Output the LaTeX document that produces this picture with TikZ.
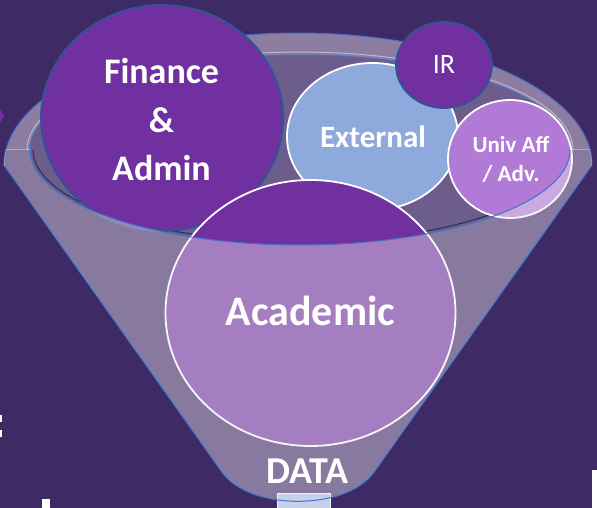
\documentclass[tikz,border=0pt]{standalone}
\usepackage{fontspec}
\setmainfont{Carlito}
\usetikzlibrary{shapes.geometric}
\definecolor{bgcol}{RGB}{62,42,100}
\definecolor{purp}{RGB}{112,48,160}
\definecolor{darkblue}{RGB}{47,85,151}
\definecolor{extblue}{RGB}{142,169,219}
\definecolor{univcol}{RGB}{176,122,214}
\definecolor{bandcol}{RGB}{140,125,161}
\definecolor{innercol}{RGB}{108,93,140}
\definecolor{overcol}{RGB}{240,232,240}
\definecolor{rimblue}{RGB}{68,114,196}
\definecolor{navy}{RGB}{30,30,72}
\definecolor{boxcol}{RGB}{199,207,235}
\tikzset{
  bubbledark/.style={ellipse, fill=purp, draw=darkblue, line width=1.8pt, inner sep=0pt},
  bubblewhite/.style={ellipse, draw=white, line width=1.8pt, inner sep=0pt},
  lbl/.style={text=white, inner sep=0pt, anchor=base, align=center},
  rimline/.style={draw=rimblue, line width=1pt},
}
\newcommand{\funnelpath}{plot[domain=180:360,samples=90] ({298+294*cos(\x)},{165+132*sin(\x)}) -- (374,472) .. controls (346.2,511.1) and (249.8,511.1) .. (222,472) -- cycle}
\begin{document}
\begin{tikzpicture}[x=1pt,y=-1pt]
\useasboundingbox (0,0) rectangle (597,508);
\fill[bgcol] (0,0) rectangle (597,508);
% fragments at the edges
\fill[white] (0,415) rectangle (2,422);
\fill[white] (0,430) rectangle (2,437);
\fill[white] (42,499) rectangle (50,508);
\fill[white] (592,470) rectangle (597,508);
\fill[purp] (0,109) -- (4,116) -- (0,123) -- cycle;
% back band
\begin{scope}
\clip (0,0) rectangle (597,150);
\fill[bandcol, even odd rule] \funnelpath (300,150) ellipse [x radius=270, y radius=95];
\end{scope}
% inner mouth
\fill[innercol] (300,150) ellipse [x radius=270, y radius=95];
\draw[navy, line width=1pt, opacity=0.8] plot[domain=0:180,samples=90] ({300+267*cos(\x)},{150+92*sin(\x)});
\draw[white, opacity=0.45, line width=1pt] plot[domain=180:360,samples=90] ({300+273*cos(\x)},{150+98*sin(\x)});
\draw[rimline] plot[domain=180:360,samples=90] ({300+270*cos(\x)},{150+95*sin(\x)});
\draw[rimline] \funnelpath;
% bubbles
\node[bubbledark, minimum width=242pt, minimum height=226pt] (fin) at (162,118) {};
\node[bubblewhite, fill=extblue, minimum width=171pt, minimum height=147pt] (ext) at (372.5,136.5) {};
\node[bubblewhite, fill=univcol, minimum width=124pt, minimum height=118pt] (univ) at (510,159) {};
\node[bubblewhite, fill=purp, minimum width=290pt, minimum height=266pt] (acad) at (310.5,313) {};
\node[bubbledark, minimum width=96pt, minimum height=86pt] (ir) at (444,65) {};
% front of funnel (translucent)
\begin{scope}
\clip (0,150) rectangle (597,508);
\fill[overcol, opacity=0.42, even odd rule] \funnelpath (300,150) ellipse [x radius=270, y radius=95];
\end{scope}
\draw[rimline] plot[domain=0:180,samples=90] ({300+270*cos(\x)},{150+95*sin(\x)});
% box below
\node[draw=white!90!gray, fill=boxcol, line width=1pt, minimum width=53pt, minimum height=20pt, inner sep=0pt, anchor=north west] (box) at (277,493) {};
\begin{scope}
\clip (0,166) rectangle (597,508);
\draw[rimline] \funnelpath;
\end{scope}
% labels
\node[lbl, font=\fontsize{36}{40}\selectfont\bfseries] (tfin1) at (161.5,84) {Finance};
\node[lbl, font=\fontsize{36}{40}\selectfont\bfseries] (tfin2) at (161.5,132) {\&};
\node[lbl, font=\fontsize{36}{40}\selectfont\bfseries] (tfin3) at (161.5,180) {Admin};
\node[lbl, font=\fontsize{31}{36}\selectfont\bfseries] (text) at (373,148) {External};
\node[lbl, font=\fontsize{28}{32}\selectfont] (tir) at (444,74) {IR};
\node[lbl, font=\fontsize{23}{28}\selectfont\bfseries] (tuniv1) at (511,153) {Univ Aff};
\node[lbl, font=\fontsize{23}{28}\selectfont\bfseries] (tuniv2) at (511,181) {/ Adv.};
\node[lbl, font=\fontsize{42}{48}\selectfont\bfseries] (tacad) at (310.5,325) {Academic};
\node[lbl, font=\fontsize{38}{44}\selectfont\bfseries] (tdata) at (307.5,483) {DATA};
\end{tikzpicture}
\end{document}
